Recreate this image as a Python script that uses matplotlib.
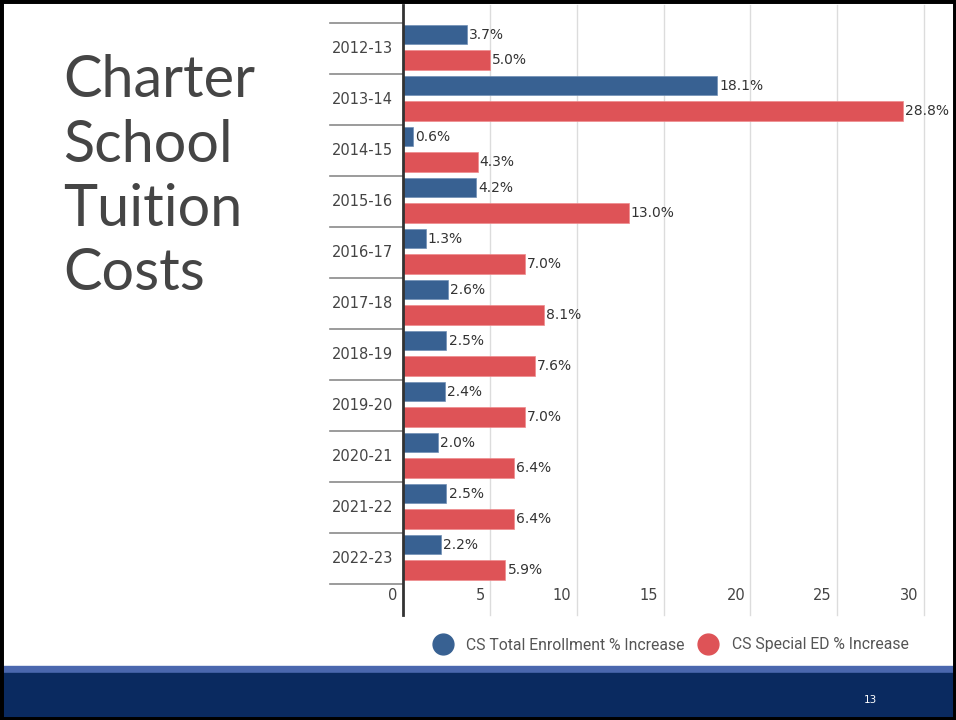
import matplotlib
matplotlib.use("Agg")
import matplotlib.pyplot as plt
from matplotlib.patches import Rectangle
from matplotlib.lines import Line2D
import numpy as np

years = ["2012-13", "2013-14", "2014-15", "2015-16", "2016-17", "2017-18",
         "2018-19", "2019-20", "2020-21", "2021-22", "2022-23"]
enroll = [3.7, 18.1, 0.6, 4.2, 1.3, 2.6, 2.5, 2.4, 2.0, 2.5, 2.2]
sped = [5.0, 28.8, 4.3, 13.0, 7.0, 8.1, 7.6, 7.0, 6.4, 6.4, 5.9]
xticks = [0, 5, 10, 15, 20, 25, 30]
title_lines = ["Charter", "School", "Tuition", "Costs"]

blue = "#386192"
red = "#de5357"
W, H = 956, 720

plt.rcParams['font.family'] = ['DejaVu Sans']

fig = plt.figure(figsize=(W / 100, H / 100), dpi=100)
fig.patch.set_facecolor("white")

# plot area in pixels
x0, x1 = 403, 930
ytop, ybot = 5, 584
ax = fig.add_axes([x0 / W, 1 - ybot / H, (x1 - x0) / W, (ybot - ytop) / H])
ax.set_xlim(0, 527 / 17.367)
ax.set_ylim(len(years), -18 / 51)
ax.axis("off")

pos = np.arange(len(years))
ax.barh(pos + 0.23, enroll, height=0.38, color=blue, edgecolor="#6f8fb5", linewidth=0.5, zorder=3)
ax.barh(pos + 0.725, sped, height=0.38, color=red, edgecolor="#ee8a8c", linewidth=0.5, zorder=3)

for i in range(len(years)):
    ax.text(enroll[i] + 0.12, i + 0.23, "{:.1f}%".format(enroll[i]), va="center", ha="left",
            fontsize=10, color="#333333", zorder=4)
    ax.text(sped[i] + 0.12, i + 0.725, "{:.1f}%".format(sped[i]), va="center", ha="left",
            fontsize=10, color="#333333", zorder=4)
    ax.text(-0.019, i + 0.5, years[i], transform=ax.get_yaxis_transform(), va="center", ha="right",
            fontsize=10.5, color="#444444")

# gridlines and axis line, extending below the plot
ybottom = -(615 - ybot) / (ybot - ytop)
xt = ax.get_xaxis_transform()
for v in xticks[1:]:
    ax.plot([v, v], [1, ybottom], transform=xt, color="#dcdcdc", lw=1, clip_on=False, zorder=1)
ax.plot([0, 0], [1, ybottom], transform=xt, color="#333333", lw=2, clip_on=False, zorder=5)

# tick labels sit just left of their gridline
for v in xticks:
    ax.text(v - 0.3, -(596 - ybot) / (ybot - ytop), str(v), transform=xt, ha="right", va="center",
            fontsize=10.5, color="#444444")

# category separators
yt = ax.get_yaxis_transform()
for k in range(len(years) + 1):
    ax.plot([-73 / (x1 - x0), 0], [k, k], transform=yt, color="#8a8a8a", lw=1.2, clip_on=False)

# title, one line at a time
for n, line in enumerate(title_lines):
    fig.text(63 / W, 1 - (97 + 64.5 * n) / H, line, ha="left", va="baseline",
             fontsize=41.5, color="#454545", family=["Lato", "DejaVu Sans"])

# legend
handles = [Line2D([], [], marker="o", ls="", markersize=15, color=blue),
           Line2D([], [], marker="o", ls="", markersize=15, color=red)]
leg = fig.legend(handles, ["CS Total Enrollment % Increase", "CS Special ED % Increase"],
                 loc="center", bbox_to_anchor=(671 / W, 1 - 645 / H), ncol=2, frameon=False,
                 prop={"family": ["Roboto", "DejaVu Sans"], "size": 11.3},
                 handletextpad=0.9, columnspacing=0.9, handlelength=1.2)
for t in leg.get_texts():
    t.set_color("#555555")

# footer
fig.patches.append(Rectangle((0, 1 - 673 / H), 1, 7 / H, transform=fig.transFigure,
                             color="#4a67ae", zorder=0))
fig.patches.append(Rectangle((0, 0), 1, 1 - 673 / H, transform=fig.transFigure,
                             color="#0a2a60", zorder=0))
fig.text(870 / W, 1 - 700 / H, "13", color="white", fontsize=7.5, ha="center", va="center")

# slide border
fig.patches.append(Rectangle((0, 0), 1, 1, transform=fig.transFigure, fill=False,
                             edgecolor="black", lw=5, zorder=10))

fig.savefig("out.png", dpi=100)
